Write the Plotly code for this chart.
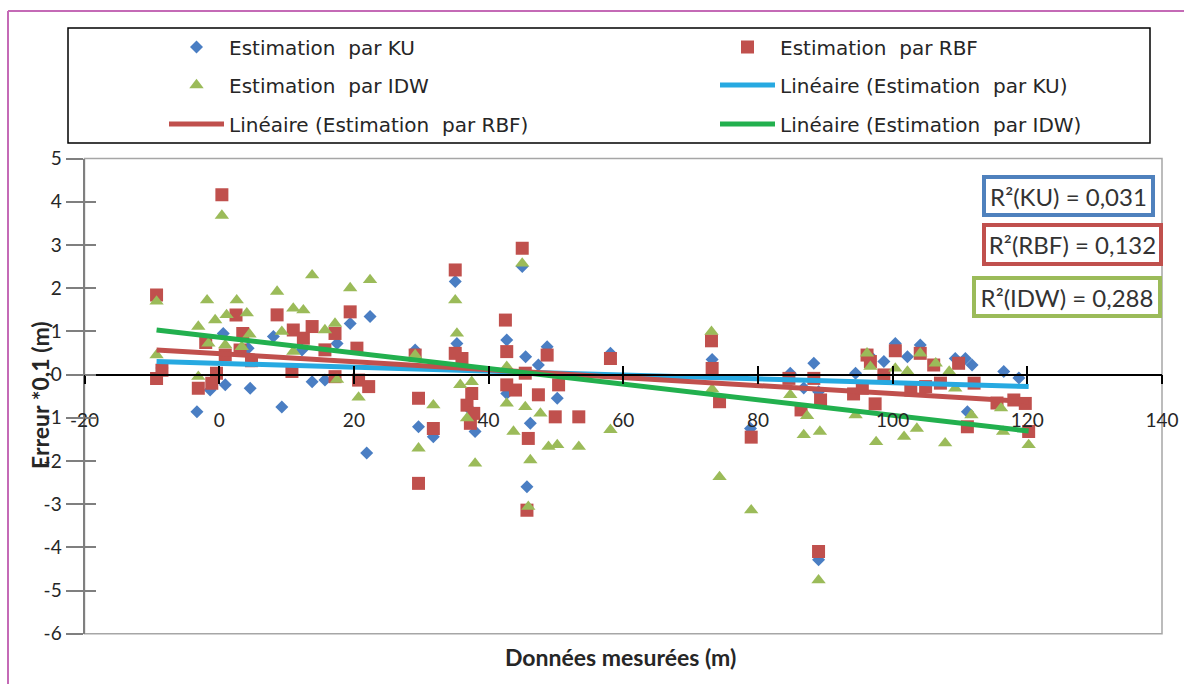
import plotly.graph_objects as go

W, H = 1184, 684


def fx(p):
    return p / W


def fy(p):
    return 1 - p / H


# ---------------- data ----------------
ku_x = [-8.5, -3.3, -1.35, 0.6, 0.9, 4.3, 4.6, 8.05, 9.3, 12.3, 13.8, 15.7, 17.5, 19.45,
        21.9, 22.4, 29.1, 29.6, 31.8, 35.05, 35.3, 37.3, 38.0, 42.7, 42.7, 45.0, 45.5,
        45.7, 46.2, 47.4, 48.7, 50.2, 58.1, 73.2, 78.9, 84.8, 86.8, 88.3, 89.0, 89.0,
        94.5, 96.5, 98.7, 100.4, 102.2, 104.1, 109.3, 110.8, 111.1, 111.8, 116.5, 118.75]
ku_y = [0.15, -0.86, -0.36, 0.95, -0.24, 0.61, -0.32, 0.88, -0.75, 0.57, -0.17, -0.13, 0.72, 1.18,
        -1.82, 1.34, 0.57, -1.21, -1.44, 2.15, 0.72, -0.82, -1.32, 0.80, -0.44, 2.50, 0.41,
        -2.60, -1.13, 0.22, 0.64, -0.55, 0.49, 0.35, -1.25, 0.03, -0.31, 0.26, -0.40, -4.29,
        0.03, 0.45, 0.30, 0.72, 0.41, 0.68, 0.37, 0.37, -0.86, 0.22, 0.07, -0.08]

rbf_x = [-9.3, -9.3, -8.5, -3.1, -2.0, -1.1, -0.4, 0.4, 0.9, 2.5, 3.1, 3.5, 4.8, 8.6, 10.8,
         11.0, 12.5, 13.8, 15.7, 17.2, 17.2, 19.45, 20.45, 20.7, 22.2, 29.1, 29.6, 29.6, 31.8,
         35.05, 35.05, 36.05, 36.8, 37.3, 37.5, 37.8, 42.5, 42.7, 42.7, 44.0, 45.0, 45.45,
         45.7, 45.9, 47.4, 48.7, 49.9, 50.4, 53.4, 58.1, 73.1, 73.2, 74.3, 79.0, 84.6, 86.4,
         88.3, 89.0, 89.3, 94.2, 95.5, 96.2, 96.7, 97.4, 98.7, 100.4, 102.7, 104.1, 104.9,
         106.1, 107.1, 109.8, 111.1, 112.1, 115.5, 118.0, 119.7, 120.2]
rbf_y = [1.84, -0.09, 0.10, -0.32, 0.74, -0.20, 0.03, 4.16, 0.45, 1.38, 0.57, 0.95, 0.32, 1.38, 0.07,
         1.03, 0.84, 1.11, 0.57, 0.95, -0.05, 1.45, 0.61, -0.13, -0.28, 0.45, -0.55, -2.52, -1.25,
         2.42, 0.49, 0.37, -0.71, -1.13, -0.44, -0.90, 1.26, 0.53, -0.24, -0.36, 2.92, 0.03,
         -3.14, -1.48, -0.47, 0.45, -0.98, -0.24, -0.98, 0.37, 0.78, 0.14, -0.63, -1.45, -0.09, -0.82,
         -0.09, -4.10, -0.59, -0.45, -0.32, 0.45, 0.30, -0.68, -0.01, 0.55, -0.36, 0.49, -0.28,
         0.22, -0.20, 0.26, -1.21, -0.20, -0.66, -0.59, -0.67, -1.32]

idw_x = [-9.3, -9.3, -3.1, -3.1, -1.8, -1.6, -0.6, 0.4, 0.9, 1.1, 2.6, 3.35, 4.1, 4.5, 8.6,
         9.3, 11.0, 11.0, 12.5, 13.8, 15.7, 17.2, 17.5, 19.45, 20.7, 22.4, 29.1, 29.6, 31.8,
         35.05, 35.3, 35.8, 36.8, 37.5, 38.0, 42.7, 42.7, 43.7, 45.0, 45.45, 45.9, 46.2, 47.7,
         48.9, 50.2, 53.4, 58.1, 73.1, 73.2, 74.3, 79.0, 84.8, 86.8, 87.3, 89.0, 89.2, 94.5,
         96.2, 96.7, 97.55, 100.4, 101.7, 102.2, 103.6, 104.1, 106.4, 107.8, 108.4, 109.3,
         111.7, 116.1, 116.4, 120.2]
idw_y = [1.69, 0.45, 1.11, -0.05, 1.72, 0.72, 1.26, 3.68, 0.68, 1.38, 1.72, 0.64, 1.42, 0.93, 1.92,
         0.99, 1.53, 0.53, 1.49, 2.30, 1.03, 1.18, -0.12, 2.00, -0.53, 2.19, 0.45, -1.71, -0.71,
         1.72, 0.95, -0.24, -1.01, -0.17, -2.06, 0.18, -0.67, -1.32, 2.57, -0.75, -3.06, -1.98, -0.90,
         -1.67, -1.63, -1.67, -1.28, 0.99, -0.34, -2.37, -3.14, -0.47, -1.40, -0.96, -4.76, -1.32, -0.94,
         0.49, 0.18, -1.56, 0.14, -1.44, 0.07, -1.25, 0.49, 0.26, -1.59, 0.07, -0.32,
         -0.94, -0.78, -1.32, -1.63]

trend_x = [-9.3, 120.2]
trend_ku = [0.30, -0.28]
trend_rbf = [0.57, -0.63]
trend_idw = [1.03, -1.31]

x_ticks = [-20, 0, 20, 40, 60, 80, 100, 120, 140]
x_ticktext = ["-20", "0", "20", "40", "60", "80", "100", "120", "140"]
y_ticks = [-6, -5, -4, -3, -2, -1, 0, 1, 2, 3, 4, 5]
y_ticktext = ["-6", "-5", "-4", "-3", "-2", "-1", "0", "1", "2", "3", "4", "5"]

series_names = ["Estimation  par KU", "Estimation  par RBF", "Estimation  par IDW",
                "Linéaire (Estimation  par KU)", "Linéaire (Estimation  par RBF)",
                "Linéaire (Estimation  par IDW)"]
r2_labels = ["R²(KU) = 0,031", "R²(RBF) = 0,132", "R²(IDW) = 0,288"]
x_title = "Données mesurées (m)"
y_title = "Erreur *0,1 (m)"

# ---------------- style ----------------
FONT = "Lato"
LEG_FONT = "DejaVu Sans"
TXT = "#262626"
C_KU, C_RBF, C_IDW = "#4A7EC3", "#C0504D", "#9BBB59"
L_KU, L_RBF, L_IDW = "#27A9E1", "#C0504D", "#22B04E"

X0, X1 = 84.5, 1162.0
Y0, Y1 = 633.7, 158.5
ZERO_PX = 374.5
COL1_W = 481

fig = go.Figure()

fig.add_trace(go.Scatter(x=ku_x, y=ku_y, mode="markers", name=series_names[0],
                         marker=dict(symbol="diamond", size=10, color=C_KU, line=dict(width=0)),
                         legend="legend", legendwidth=COL1_W))
fig.add_trace(go.Scatter(x=rbf_x, y=rbf_y, mode="markers", name=series_names[1],
                         marker=dict(symbol="square", size=13, color=C_RBF, line=dict(width=0)),
                         legend="legend", legendwidth=280))
fig.add_trace(go.Scatter(x=idw_x, y=idw_y, mode="markers", name=series_names[2],
                         marker=dict(symbol="triangle-up", size=12.5, color=C_IDW, line=dict(width=0)),
                         legend="legend2", legendwidth=COL1_W))
fig.add_trace(go.Scatter(x=trend_x, y=trend_ku, mode="lines", name=series_names[3],
                         line=dict(color=L_KU, width=5), legend="legend2", legendwidth=330))
fig.add_trace(go.Scatter(x=trend_x, y=trend_rbf, mode="lines", name=series_names[4],
                         line=dict(color=L_RBF, width=5), legend="legend3", legendwidth=COL1_W))
fig.add_trace(go.Scatter(x=trend_x, y=trend_idw, mode="lines", name=series_names[5],
                         line=dict(color=L_IDW, width=5), legend="legend3", legendwidth=330))

# empty traces so that the overlay axes (cross ticks) are drawn
fig.add_trace(go.Scatter(x=[], y=[], xaxis="x2", yaxis="y", showlegend=False, hoverinfo="skip"))
fig.add_trace(go.Scatter(x=[], y=[], xaxis="x", yaxis="y2", showlegend=False, hoverinfo="skip"))

leg_common = dict(orientation="h", xanchor="left", yanchor="middle", itemwidth=55,
                  bgcolor="rgba(0,0,0,0)", borderwidth=0, traceorder="normal",
                  font=dict(family=LEG_FONT, size=20, color=TXT), entrywidthmode="pixels")

pos0 = fy(ZERO_PX)
tickfont = dict(family=FONT, size=19, color=TXT)

fig.update_layout(
    autosize=True, margin=dict(l=0, r=0, t=0, b=0, autoexpand=False),
    paper_bgcolor="white", plot_bgcolor="white",
    showlegend=True,
    legend=dict(x=fx(164), y=fy(47), **leg_common),
    legend2=dict(x=fx(164), y=fy(85), **leg_common),
    legend3=dict(x=fx(164), y=fy(124), **leg_common),
    xaxis=dict(domain=[fx(X0), fx(X1)], range=[-20, 140], anchor="free", position=pos0,
               tickvals=x_ticks, ticktext=x_ticktext, ticks="outside", ticklen=9, tickwidth=1.5,
               tickcolor="black", showline=True, linecolor="black", linewidth=1.5,
               showgrid=False, zeroline=False, tickfont=tickfont, ticklabelstandoff=20),
    xaxis2=dict(domain=[fx(X0), fx(X1)], range=[-20, 140], anchor="free", position=pos0,
                overlaying="x", side="bottom", tickvals=x_ticks, ticks="inside", ticklen=9,
                tickwidth=1.5, tickcolor="black", showticklabels=False, showline=False,
                showgrid=False, zeroline=False),
    yaxis=dict(domain=[fy(Y0), fy(Y1)], range=[-6, 5], anchor="x", tickvals=y_ticks,
               ticktext=y_ticktext, ticks="outside", ticklen=17, tickwidth=1.5, tickcolor="#7F7F7F",
               showline=True, linecolor="#7F7F7F", linewidth=2, showgrid=False, zeroline=False,
               tickfont=tickfont),
    yaxis2=dict(domain=[fy(Y0), fy(Y1)], range=[-6, 5], anchor="x", overlaying="y", side="left",
                tickvals=y_ticks, ticks="inside", ticklen=11, tickwidth=1.5, tickcolor="#7F7F7F",
                showticklabels=False, showline=False, showgrid=False, zeroline=False),
)

shapes = [
    # plot area frame
    dict(type="rect", xref="paper", yref="paper", x0=fx(X0), x1=fx(X1), y0=fy(Y0), y1=fy(Y1),
         line=dict(color="#A6A6A6", width=1.5), layer="below"),
    # legend frame
    dict(type="rect", xref="paper", yref="paper", x0=fx(68), x1=fx(1150), y0=fy(143), y1=fy(28),
         line=dict(color="black", width=1.5)),
    # page frame (purple)
    dict(type="line", xref="paper", yref="paper", x0=fx(8), x1=1, y0=fy(11), y1=fy(11),
         line=dict(color="#C46AB6", width=2)),
    dict(type="line", xref="paper", yref="paper", x0=fx(8), x1=fx(8), y0=fy(11), y1=0,
         line=dict(color="#C46AB6", width=2)),
]
fig.update_layout(shapes=shapes)

annotations = [
    dict(text="<b>" + x_title + "</b>", x=fx(620), y=fy(657), xref="paper", yref="paper",
         xanchor="center", yanchor="middle",
         showarrow=False, font=dict(family=FONT, size=23, color=TXT)),
    dict(text="<b>" + y_title + "</b>", x=fx(40), y=fy(395), xref="paper", yref="paper",
         xanchor="center", yanchor="middle",
         showarrow=False, textangle=-90, font=dict(family=FONT, size=23, color=TXT)),
]
box_specs = [
    (r2_labels[0], 1068.5, 196, 165, 34, "#4F81BD"),
    (r2_labels[1], 1072.5, 245, 173, 35, "#C0504D"),
    (r2_labels[2], 1067, 297.5, 182, 34, "#9BBB59"),
]
for txt, cx, cy, bw, bh, col in box_specs:
    annotations.append(dict(text=txt, x=fx(cx), y=fy(cy), xref="paper", yref="paper",
                            xanchor="center", yanchor="middle",
                            showarrow=False, width=bw, height=bh, align="center", valign="middle",
                            bordercolor=col, borderwidth=4, borderpad=0, bgcolor="white",
                            font=dict(family=FONT, size=24, color="#333333")))
fig.update_layout(annotations=annotations)

post = ("var st=document.createElement('style');"
        "st.textContent='html,body{margin:0 !important;padding:0;width:100%;height:100%;overflow:hidden;}"
        "body>div{width:100%;height:100%;}';"
        "document.head.appendChild(st);"
        "Plotly.Plots.resize(document.getElementById('{plot_id}'));")

fig.write_html("out.html", config={"displayModeBar": False, "responsive": True},
               default_width="100%", default_height="100%", post_script=post)
